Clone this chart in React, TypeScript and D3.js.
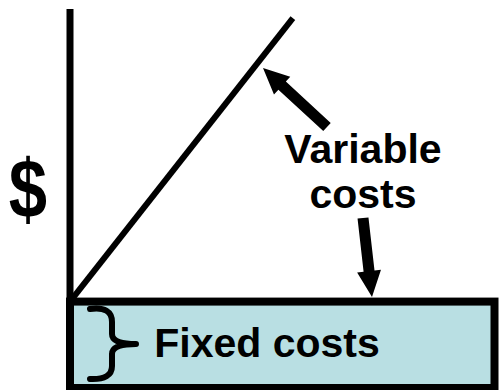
import React from "react";
import * as d3 from "d3";

// Values (abstract units: x = output volume, y = dollars)
const axisRange = [0, 100];
const fixedCost = [22.8];          // height of fixed-cost block
const volumeExtent = [0, 100];     // x extent of fixed-cost block
const variableLineX = [0, 52.5];
const variableLineY = [22.8, 97.6];
const labels = ["$", "Variable", "costs", "Fixed costs"];

const W = 500, H = 390;

export default function App() {
  const x = d3.scaleLinear().domain(axisRange).range([70, 494.5]);
  const y = d3.scaleLinear().domain(axisRange).range([388, 9]);

  const line = d3.line<[number, number]>().x(d => x(d[0])).y(d => y(d[1]));
  const varPts: [number, number][] = variableLineX.map((v, i) => [v, variableLineY[i]]);

  const arrow = (x1: number, y1: number, x2: number, y2: number, shaft = 11, headW = 24, headL = 26) => {
    const dx = x2 - x1, dy = y2 - y1;
    const len = Math.hypot(dx, dy);
    const ux = dx / len, uy = dy / len;
    const nx = -uy, ny = ux;
    const bx = x2 - ux * headL, by = y2 - uy * headL;
    const s = shaft / 2, h = headW / 2;
    const pts = [
      [x1 + nx * s, y1 + ny * s],
      [bx + nx * s, by + ny * s],
      [bx + nx * h, by + ny * h],
      [x2, y2],
      [bx - nx * h, by - ny * h],
      [bx - nx * s, by - ny * s],
      [x1 - nx * s, y1 - ny * s],
    ];
    return "M" + pts.map(p => p.join(",")).join("L") + "Z";
  };

  const font = "'Liberation Sans', Arial, sans-serif";

  return (
    <svg width={W} height={H} style={{ position: "absolute", left: 0, top: 0 }}>
      <rect width={W} height={H} fill="#fff" />
      {/* fixed cost block */}
      <rect
        x={x(volumeExtent[0])}
        y={y(fixedCost[0])}
        width={x(volumeExtent[1]) - x(volumeExtent[0])}
        height={y(0) - y(fixedCost[0])}
        fill="#b9dfe3"
        stroke="#000"
        strokeWidth={8}
      />
      {/* vertical axis */}
      <line x1={x(0)} x2={x(0)} y1={y(0)} y2={y(100)} stroke="#000" strokeWidth={7} />
      {/* variable cost line */}
      <path d={line(varPts) || ""} fill="none" stroke="#000" strokeWidth={6} />
      {/* arrows */}
      <path d={arrow(327, 127, 263, 68)} fill="#000" />
      <path d={arrow(363, 218, 372, 297)} fill="#000" />
      {/* brace */}
      <path
        d="M90,309 Q112,306 112,322 L112,334 Q112,344 136,344 Q112,344 112,354 L112,366 Q112,380 90,379"
        fill="none" stroke="#000" strokeWidth={6} strokeLinecap="round" strokeLinejoin="round"
      />
      {/* texts */}
      <text transform="translate(28,218) scale(0.82,1)" fontFamily={font} fontWeight="bold" fontSize={84} textAnchor="middle">{labels[0]}</text>
      <text x={363} y={163} fontFamily={font} fontWeight="bold" fontSize={41} textAnchor="middle">{labels[1]}</text>
      <text x={363} y={208} fontFamily={font} fontWeight="bold" fontSize={41} textAnchor="middle">{labels[2]}</text>
      <text x={267} y={357} fontFamily={font} fontWeight="bold" fontSize={41} textAnchor="middle">{labels[3]}</text>
    </svg>
  );
}
